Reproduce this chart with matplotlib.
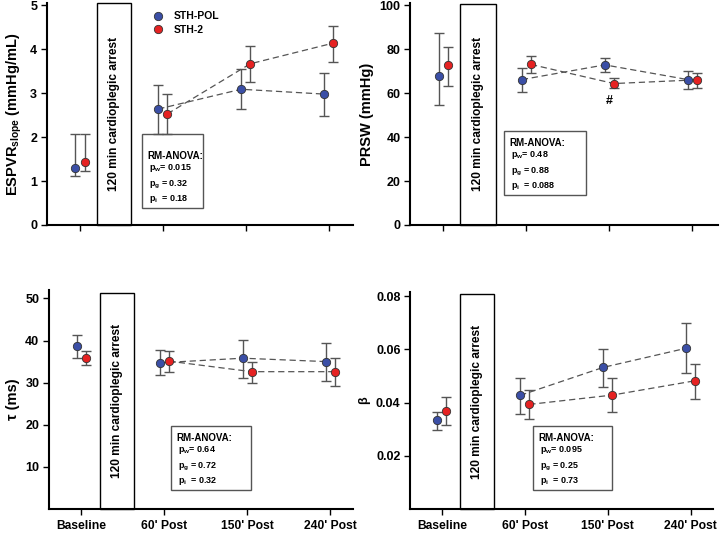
import matplotlib
matplotlib.use("Agg")
import matplotlib.pyplot as plt
from matplotlib.patches import Rectangle
from matplotlib.lines import Line2D
import numpy as np

plt.rcParams['font.family'] = ['Liberation Sans', 'DejaVu Sans']
plt.rcParams['font.weight'] = 'bold'
plt.rcParams['mathtext.fontset'] = 'custom'
plt.rcParams['mathtext.rm'] = 'Liberation Sans:bold'
plt.rcParams['mathtext.it'] = 'Liberation Sans:bold'
plt.rcParams['mathtext.bf'] = 'Liberation Sans:bold'

timepoints = ["Baseline", "60' Post", "150' Post", "240' Post"]
groups = ["STH-POL", "STH-2"]
colors = {"STH-POL": "#3b4fa6", "STH-2": "#e52222"}

# ESPVR slope (mmHg/mL): mean, lower, upper
espvr_pol = [1.30, 2.64, 3.09, 2.98]
espvr_pol_lo = [1.11, 2.07, 2.63, 2.49]
espvr_pol_hi = [2.07, 3.18, 3.55, 3.46]
espvr_sth2 = [1.43, 2.53, 3.67, 4.14]
espvr_sth2_lo = [1.23, 2.06, 3.26, 3.72]
espvr_sth2_hi = [2.08, 2.99, 4.07, 4.54]

# PRSW (mmHg)
prsw_pol = [68.0, 66.2, 72.9, 66.2]
prsw_pol_lo = [54.7, 60.6, 69.7, 62.1]
prsw_pol_hi = [87.5, 71.6, 76.1, 70.0]
prsw_sth2 = [72.9, 73.1, 64.4, 66.1]
prsw_sth2_lo = [63.3, 69.3, 62.4, 62.4]
prsw_sth2_hi = [81.0, 76.9, 66.7, 69.4]

# tau (ms)
tau_pol = [38.7, 34.7, 35.8, 35.0]
tau_pol_lo = [35.8, 31.7, 31.2, 30.3]
tau_pol_hi = [41.3, 37.7, 40.2, 39.5]
tau_sth2 = [35.8, 35.1, 32.6, 32.6]
tau_sth2_lo = [34.2, 32.5, 29.9, 29.1]
tau_sth2_hi = [37.5, 37.5, 35.0, 35.9]

# beta
beta_pol = [0.0333, 0.0427, 0.0532, 0.0604]
beta_pol_lo = [0.0298, 0.0358, 0.0457, 0.0511]
beta_pol_hi = [0.0365, 0.0492, 0.0602, 0.0697]
beta_sth2 = [0.0370, 0.0393, 0.0428, 0.0482]
beta_sth2_lo = [0.0314, 0.0338, 0.0364, 0.0415]
beta_sth2_hi = [0.0422, 0.0449, 0.0491, 0.0546]

anova_espvr = ["0.015", "0.32", "0.18"]
anova_prsw = ["0.48", "0.88", "0.088"]
anova_tau = ["0.64", "0.72", "0.32"]
anova_beta = ["0.095", "0.25", "0.73"]

arrest_label = "120 min cardioplegic arrest"

fig = plt.figure(figsize=(7.21, 5.33), dpi=100)
axes = [
    fig.add_axes([0.065, 0.578, 0.424, 0.416]),
    fig.add_axes([0.569, 0.578, 0.427, 0.416]),
    fig.add_axes([0.068, 0.045, 0.422, 0.411]),
    fig.add_axes([0.569, 0.045, 0.420, 0.407]),
]

panels = [
    dict(pol=(espvr_pol, espvr_pol_lo, espvr_pol_hi), sth=(espvr_sth2, espvr_sth2_lo, espvr_sth2_hi),
         ylim=5.05, yticks=[0, 1, 2, 3, 4, 5], ylabel="ESPVR$_{slope}$ (mmHg/mL)", fmt="{:g}",
         anova=anova_espvr, box=(0.75, 1.48, 0.38, 2.08), arrest=(0.20, 0.61, 5.05), xlim=(-0.4, 3.29)),
    dict(pol=(prsw_pol, prsw_pol_lo, prsw_pol_hi), sth=(prsw_sth2, prsw_sth2_lo, prsw_sth2_hi),
         ylim=101, yticks=[0, 20, 40, 60, 80, 100], ylabel="PRSW (mmHg)", fmt="{:g}",
         anova=anova_prsw, box=(0.73, 1.72, 13.5, 43.0), arrest=(0.20, 0.63, 100.8), xlim=(-0.4, 3.31)),
    dict(pol=(tau_pol, tau_pol_lo, tau_pol_hi), sth=(tau_sth2, tau_sth2_lo, tau_sth2_hi),
         ylim=52, yticks=[10, 20, 30, 40, 50], ylabel="τ (ms)", fmt="{:g}",
         anova=anova_tau, box=(1.08, 2.05, 4.5, 19.8), arrest=(0.22, 0.64, 51.3), xlim=(-0.39, 3.28)),
    dict(pol=(beta_pol, beta_pol_lo, beta_pol_hi), sth=(beta_sth2, beta_sth2_lo, beta_sth2_hi),
         ylim=0.0815, yticks=[0.02, 0.04, 0.06, 0.08], ylabel="β", fmt="{:.2f}",
         anova=anova_beta, box=(1.10, 2.05, 0.0071, 0.0313), arrest=(0.22, 0.63, 0.0808), xlim=(-0.38, 3.27)),
]

x = np.arange(len(timepoints))
offset = 0.055
line_color = "#555555"
p_labels = ["p$_w$= ", "p$_g$ = ", "p$_i$  = "]
p_offsets = [27.7, 15.8, 5.0]  # points above box bottom (baseline)

for i, (ax, p) in enumerate(zip(axes, panels)):
    for name, (mean, lo, hi), dx in [("STH-POL", p["pol"], -offset), ("STH-2", p["sth"], offset)]:
        mean = np.array(mean)
        err = [mean - np.array(lo), np.array(hi) - mean]
        ax.plot(x[1:] + dx, mean[1:], ls=(0, (5, 3)), color=line_color, lw=0.9, zorder=2)
        ax.errorbar(x + dx, mean, yerr=err, fmt="none", ecolor=line_color, elinewidth=1,
                    capsize=3.5, capthick=1, zorder=3)
        ax.plot(x + dx, mean, "o", ms=6, mfc=colors[name], mec="#333333", mew=0.6,
                zorder=4, label=name)

    ax.set_xlim(*p["xlim"])
    ax.set_ylim(0, p["ylim"])
    ax.set_xticks(x)
    ax.set_yticks(p["yticks"])
    ax.set_yticklabels([p["fmt"].format(v) for v in p["yticks"]], fontsize=9, fontweight="bold")
    if i >= 2:
        ax.set_xticklabels(timepoints, fontsize=8.7, fontweight="bold")
    else:
        ax.set_xticklabels([])
    ax.set_ylabel(p["ylabel"], fontsize=10.5 if i != 3 else 9, fontweight="bold", labelpad=4)
    for s in ["top", "right"]:
        ax.spines[s].set_visible(False)
    for s in ["left", "bottom"]:
        ax.spines[s].set_linewidth(1.5)
    ax.tick_params(direction="out", length=4, width=1, pad=3)
    ax.tick_params(axis="x", pad=4)

    ax0, ax1, ytop = p["arrest"]
    ax.add_patch(Rectangle((ax0, 0), ax1 - ax0, ytop, facecolor="white", edgecolor="black",
                           lw=1, zorder=1, clip_on=False))
    ax.text((ax0 + ax1) / 2, ytop * 0.5, arrest_label, rotation=90, ha="center", va="center",
            fontsize=8.6, fontweight="bold", zorder=2)

    bx0, bx1, by0, by1 = p["box"]
    ax.add_patch(Rectangle((bx0, by0), bx1 - bx0, by1 - by0, facecolor="white",
                           edgecolor="#555555", lw=1, zorder=1))
    ax.annotate("RM-ANOVA:", xy=(bx0, by0), xytext=(3.6, 35.6), textcoords="offset points",
                fontsize=7, fontweight="bold", va="baseline", ha="left")
    for lab, val, dy in zip(p_labels, p["anova"], p_offsets):
        ax.annotate(lab + val, xy=(bx0, by0), xytext=(5, dy), textcoords="offset points",
                    fontsize=6.5, fontweight="bold", va="baseline", ha="left")

    if i == 1:
        ax.text(x[2], 56.3, "#", fontsize=9, fontweight="bold", ha="center", va="center")

handles = [Line2D([], [], ls="none", marker="o", ms=6, mfc=colors[g], mec="#333333", mew=0.6)
           for g in groups]
axes[0].legend(handles, groups, loc="upper left", bbox_to_anchor=(0.315, 1.005), frameon=False,
               handlelength=1.0, handletextpad=1.0, labelspacing=0.35,
               prop={"weight": "bold", "size": 7.5})

fig.savefig("out.png", dpi=100)
